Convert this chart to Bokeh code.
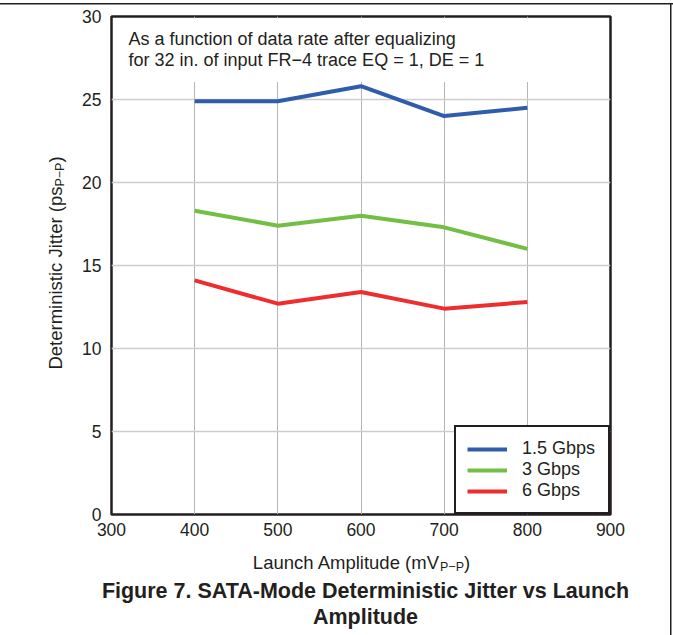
import math
from bokeh.plotting import figure
from bokeh.models import Label, Legend, LegendItem, BoxAnnotation, FixedTicker, Range1d
from bokeh.embed import file_html
from bokeh.resources import INLINE

# ---------------- data ----------------
launch_mv = [400, 500, 600, 700, 800]
dj_1p5_gbps = [24.9, 24.9, 25.8, 24.0, 24.5]
dj_3_gbps = [18.3, 17.4, 18.0, 17.3, 16.0]
dj_6_gbps = [14.1, 12.7, 13.4, 12.4, 12.8]
series_names = ["1.5 Gbps", "3 Gbps", "6 Gbps"]
series_colors = ["#2f5dab", "#73bf45", "#ee2d2f"]
x_ticks = [300, 400, 500, 600, 700, 800, 900]
y_ticks = [0, 5, 10, 15, 20, 25, 30]
note_lines = ["As a function of data rate after equalizing",
              "for 32 in. of input FR\u22124 trace EQ = 1, DE = 1"]
x_label_parts = ["Launch Amplitude (mV", "P\u2212P", ")"]
y_label_parts = ["Deterministic Jitter (ps", "P\u2212P", ")"]
caption_lines = ["Figure 7. SATA-Mode Deterministic Jitter vs Launch", "Amplitude"]

# ---------------- layout (page pixels) ----------------
FX, FY = 0, 0            # canvas top-left on page
W, H = 673, 635
L, R, T, B = 111, 610, 16, 514   # frame edges on page
FONT = "Liberation Sans"
INK = "#231f20"

def px2x(px):
    return 300 + (px - L) * 600.0 / (R - L)

def py2y(py):
    return 30.0 * (B - py) / (B - T)

# Arial / Liberation Sans advance widths (per 1000 em)
_W = {' ': 278, '(': 333, ')': 333, '-': 333, '\u2212': 584, '.': 278, ',': 278, '=': 584,
      'A': 667, 'B': 667, 'C': 722, 'D': 722, 'E': 667, 'F': 611, 'G': 778, 'H': 722, 'I': 278,
      'J': 500, 'K': 667, 'L': 556, 'M': 833, 'N': 722, 'O': 778, 'P': 667, 'Q': 778, 'R': 722,
      'S': 667, 'T': 611, 'U': 722, 'V': 667, 'W': 944, 'X': 667, 'Y': 667, 'Z': 611,
      'a': 556, 'b': 556, 'c': 500, 'd': 556, 'e': 556, 'f': 278, 'g': 556, 'h': 556, 'i': 222,
      'j': 222, 'k': 500, 'l': 222, 'm': 833, 'n': 556, 'o': 556, 'p': 556, 'q': 556, 'r': 333,
      's': 500, 't': 278, 'u': 556, 'v': 500, 'w': 722, 'x': 500, 'y': 500, 'z': 500}

def text_w(s, size):
    return sum(_W.get(c, 556) for c in s) * size / 1000.0

p = figure(width=W, height=H, x_range=Range1d(300, 900), y_range=Range1d(0, 30),
           output_backend="svg", toolbar_location=None,
           min_border_left=L - FX, min_border_right=FX + W - R,
           min_border_top=T - FY, min_border_bottom=FY + H - B)
p.background_fill_color = "white"
p.border_fill_color = None
p.outline_line_color = INK
p.outline_line_width = 2.5
p.outline_line_alpha = 1.0
# thin page rule at the top and on the right (drawn by the host element, below the canvas)
p.styles = {"box-shadow": ("inset 0 3px 0 0 #ffffff, inset 0 4.5px 0 0 #231f20, "
                           "inset -1.5px 0 0 0 #ffffff, inset -3px 0 0 0 #231f20")}

p.xaxis.ticker = FixedTicker(ticks=x_ticks, minor_ticks=[])
p.yaxis.ticker = FixedTicker(ticks=y_ticks, minor_ticks=[])
p.xgrid.ticker = FixedTicker(ticks=x_ticks, minor_ticks=[])
p.ygrid.ticker = FixedTicker(ticks=y_ticks, minor_ticks=[])
p.xgrid.grid_line_color = "#b5b5b5"
p.xgrid.grid_line_width = 1
p.ygrid.grid_line_color = "#cdcdcd"
p.ygrid.grid_line_width = 1.5
for ax in (p.xaxis[0], p.yaxis[0]):
    ax.axis_line_color = None
    ax.major_tick_line_color = None
    ax.minor_tick_line_color = None
    ax.major_tick_out = 0
    ax.major_tick_in = 0
    ax.major_label_text_font = FONT
    ax.major_label_text_font_size = "17.5px"
    ax.major_label_text_color = INK
p.xaxis.major_label_standoff = 8
p.yaxis.major_label_standoff = 10

# white band behind the note
band = BoxAnnotation(left=px2x(L + 2), right=px2x(R - 2), top=py2y(T + 2), bottom=26.05,
                     fill_color="white", fill_alpha=1.0, line_color=None, level="underlay")
p.add_layout(band)

renderers = []
for ys, color in zip([dj_1p5_gbps, dj_3_gbps, dj_6_gbps], series_colors):
    r = p.line(launch_mv, ys, line_color=color, line_width=4, line_join="round")
    renderers.append(r)

legend = Legend(items=[LegendItem(label=n, renderers=[r]) for n, r in zip(series_names, renderers)],
                location="bottom_right", margin=0, padding=11, spacing=0,
                glyph_width=40, glyph_height=20, label_standoff=15, label_width=75,
                label_text_font=FONT, label_text_font_size="18px", label_text_color=INK,
                border_line_color=INK, border_line_width=2.5, border_line_alpha=1.0,
                background_fill_color="white", background_fill_alpha=1.0)
p.add_layout(legend)

def add_text(px, py, text, size, bold=False, align="left", angle=0.0, place=None):
    """(px, py) is the page position of the text's left/centre edge and vertical middle."""
    lab = Label(x=px2x(px), y=py2y(py), text=text, x_units="data", y_units="data",
                text_font=FONT, text_font_size=f"{size}px",
                text_font_style="bold" if bold else "normal",
                text_color=INK, text_align=align, text_baseline="middle",
                angle=angle, angle_units="rad")
    if place is None:
        p.add_layout(lab)
    else:
        p.add_layout(lab, place)

# note inside the plot
add_text(128, 38.5, note_lines[0], 18)
add_text(128, 59.5, note_lines[1], 18)

# x-axis label with subscript
MAIN, SUB = 18.5, 12.5
xw = [text_w(x_label_parts[0], MAIN), text_w(x_label_parts[1], SUB), text_w(x_label_parts[2], MAIN)]
x0 = 361 - sum(xw) / 2
add_text(x0, 562, x_label_parts[0], MAIN, place="below")
add_text(x0 + xw[0], 566.5, x_label_parts[1], SUB, place="right")
add_text(x0 + xw[0] + xw[1], 562, x_label_parts[2], MAIN, place="right")

# y-axis label (rotated) with subscript
yw = [text_w(y_label_parts[0], MAIN), text_w(y_label_parts[1], SUB), text_w(y_label_parts[2], MAIN)]
y0 = 262.5 + sum(yw) / 2
add_text(55, y0, y_label_parts[0], MAIN, angle=math.pi / 2, place="left")
add_text(59.5, y0 - yw[0], y_label_parts[1], SUB, angle=math.pi / 2, place="left")
add_text(55, y0 - yw[0] - yw[1], y_label_parts[2], MAIN, angle=math.pi / 2, place="left")

# caption
add_text(365, 590, caption_lines[0], 21.5, bold=True, align="center", place="below")
add_text(365, 616.5, caption_lines[1], 21.5, bold=True, align="center", place="below")

open("out.html", "w").write(file_html(p, INLINE))
